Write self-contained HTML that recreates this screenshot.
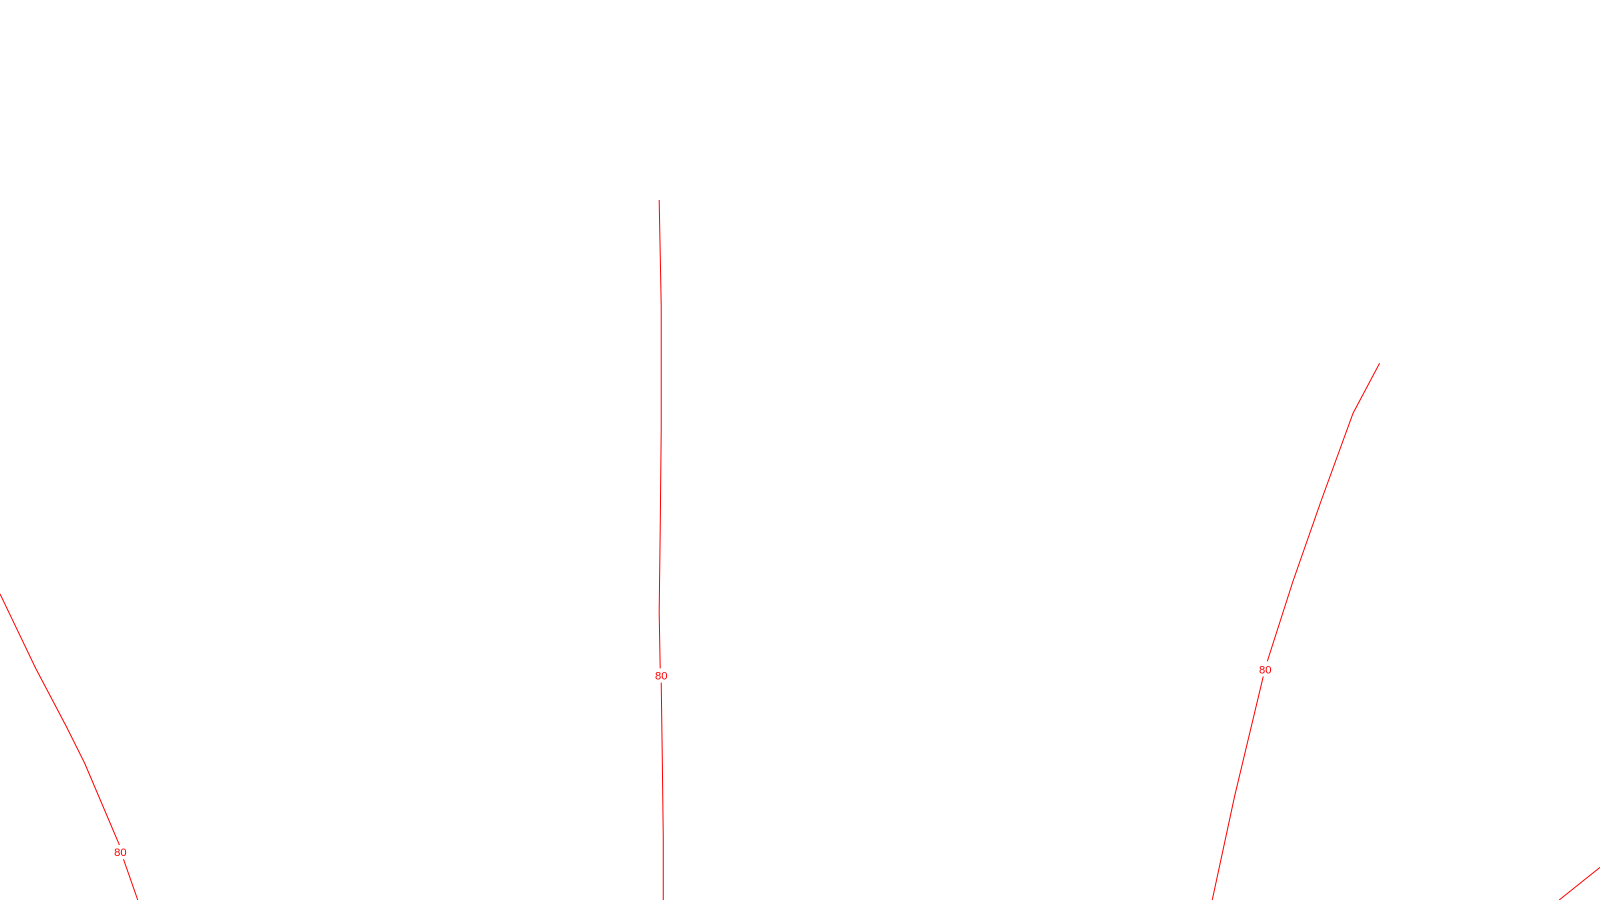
<!DOCTYPE html>
<html><head><style>html,body{margin:0;padding:0;background:#fff;width:1600px;height:900px;overflow:hidden}</style></head>
<body>
<svg width="1600" height="900" xmlns="http://www.w3.org/2000/svg" style="display:block">
<g transform="scale(1.0204)">
<g fill="none" stroke="#ff0000" stroke-width="1" vector-effect="non-scaling-stroke">
<polyline vector-effect="non-scaling-stroke" points="0,582 35,655 65,712 83,748 117,828"/>
<polyline vector-effect="non-scaling-stroke" points="121,842 135,882"/>
<polyline vector-effect="non-scaling-stroke" points="646,196 648,300 648,420 647,520 646,600 647,655"/>
<polyline vector-effect="non-scaling-stroke" points="648,669 649,740 650,820 650,882"/>
<polyline vector-effect="non-scaling-stroke" points="1352,356 1326,405 1295,490 1267,570 1242,648"/>
<polyline vector-effect="non-scaling-stroke" points="1238,663 1210,780 1188,882"/>
<polyline vector-effect="non-scaling-stroke" points="1568,850 1528,882"/>
</g>
<g fill="#ff0000" font-family="Liberation Sans, sans-serif" font-size="11" text-anchor="middle">
<text x="118" y="839">80</text>
<text x="648" y="666">80</text>
<text x="1240" y="660">80</text>
</g>
</g>
</svg>
</body></html>
